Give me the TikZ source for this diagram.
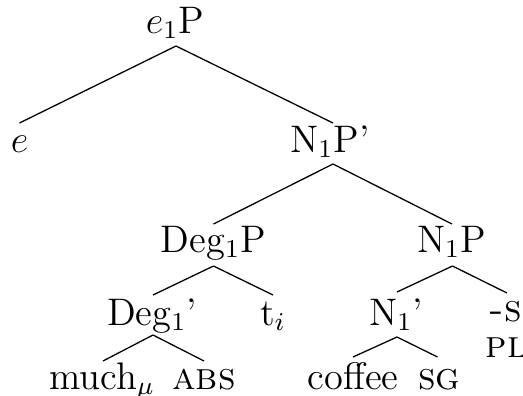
\documentclass[tikz,border=0pt]{standalone}
\usetikzlibrary{calc}
\newcommand\tedge[6]{\draw ($(#1.base)+(#2,#3)$) -- ($(#4.base)+(#5,-#6)$);}
\begin{document}
\begin{tikzpicture}[x=0.3125pt,y=-0.3125pt,
  lab/.style={anchor=base,inner sep=0pt,font=\fontsize{12}{14}\selectfont},
  every path/.style={line width=0.4pt}]
\useasboundingbox (0,0) rectangle (523,396);
\node[lab] (top) at (175,33) {$e_1$P};
\node[lab] (e) at (19.5,152) {$e$};
\node[lab] (n1pp) at (330,152) {N$_1$P'};
\node[lab] (deg1p) at (213.5,252) {Deg$_1$P};
\node[lab] (n1p) at (451.5,252) {N$_1$P};
\node[lab] (deg1b) at (152,325) {Deg$_1$'};
\node[lab] (ti) at (273,325) {t$_i$};
\node[lab] (n1b) at (396,325) {N$_1$'};
\node[lab] (s) at (506,321) {\textsc{-s}};
\node[lab] (pl) at (506.5,357) {\textsc{pl}};
\node[lab] (much) at (102,389) {much$_\mu$};
\node[lab] (abs) at (204,389) {\textsc{abs}};
\node[lab] (coffee) at (353,389) {coffee};
\node[lab] (sg) at (439.5,389) {\textsc{sg}};
\tedge{top}{1}{13}{e}{0}{29}
\tedge{top}{1}{13}{n1pp}{3}{29}
\tedge{n1pp}{3}{12}{deg1p}{0}{28}
\tedge{n1pp}{3}{12}{n1p}{0.5}{28}
\tedge{deg1p}{0}{14}{deg1b}{1}{30}
\tedge{deg1p}{0}{14}{ti}{0}{30}
\tedge{n1p}{1}{14}{n1b}{1}{33}
\tedge{n1p}{1}{14}{s}{1}{28}
\tedge{deg1b}{1}{10}{much}{1}{28}
\tedge{deg1b}{1}{10}{abs}{0}{28}
\tedge{n1b}{1}{12}{coffee}{0}{32}
\tedge{n1b}{1}{12}{sg}{-2}{32}
\end{tikzpicture}
\end{document}
